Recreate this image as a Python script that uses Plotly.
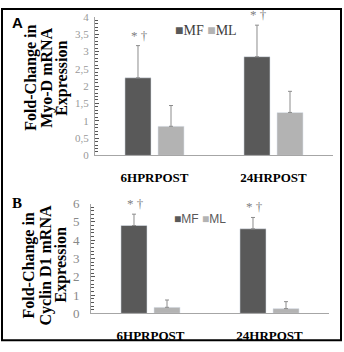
import plotly.graph_objects as go

categories = ["6HPRPOST", "24HRPOST"]
# Panel A: Myo-D
a_mf = [2.24, 2.85]
a_mf_err = [3.17, 3.76]
a_ml = [0.84, 1.24]
a_ml_err = [1.44, 1.85]
# Panel B: Cyclin D1
b_mf = [4.8, 4.62]
b_mf_err = [5.42, 5.24]
b_ml = [0.33, 0.26]
b_ml_err = [0.73, 0.64]

title_a = ["Fold-Change in", "Myo-D mRNA", "Expression"]
title_b = ["Fold-Change in", "Cyclin D1 mRNA", "Expression"]

MF_COLOR = "#595959"
ML_COLOR = "#b3b3b3"
ERR_COLOR = "#8c8c8c"
W, H = 344, 352

def px(x):
    return x / W

def py(y):
    return 1 - y / H

fig = go.Figure()

def add_bars(xa, ya, mf, mf_top, ml, ml_top):
    fig.add_trace(go.Bar(
        x=categories, y=mf, name="MF", marker_color=MF_COLOR, xaxis=xa, yaxis=ya,
        offsetgroup="mf", showlegend=False,
        error_y=dict(type="data", symmetric=False,
                     array=[t - v for t, v in zip(mf_top, mf)],
                     arrayminus=[0] * len(mf), color=ERR_COLOR, thickness=1, width=2)))
    fig.add_trace(go.Bar(
        x=categories, y=ml, name="ML", marker_color=ML_COLOR, xaxis=xa, yaxis=ya,
        offsetgroup="ml", showlegend=False,
        error_y=dict(type="data", symmetric=False,
                     array=[t - v for t, v in zip(ml_top, ml)],
                     arrayminus=[0] * len(ml), color=ERR_COLOR, thickness=1, width=2)))

add_bars("x", "y", a_mf, a_mf_err, a_ml, a_ml_err)
add_bars("x2", "y2", b_mf, b_mf_err, b_ml, b_ml_err)

serif = "Liberation Serif"
xcommon = dict(type="category", showline=True, linecolor="#a6a6a6", linewidth=1,
               ticks="", tickfont=dict(family=serif, size=13, color="black", weight="bold"),
               ticklabelstandoff=10, showgrid=False, zeroline=False)
fig.update_layout(
    width=W, height=H, margin=dict(l=0, r=0, t=0, b=0),
    paper_bgcolor="white", plot_bgcolor="white",
    barmode="group", bargap=0.445, bargroupgap=0.21,
    separators=",.",
    xaxis=dict(domain=[px(95), px(333)], anchor="y", **xcommon),
    yaxis=dict(domain=[py(155), py(10.3)], anchor="x", range=[0, 4], dtick=0.5,
               showline=True, linecolor="#a6a6a6", linewidth=1, showgrid=False, zeroline=False,
               ticks="inside", ticklen=4, tickcolor="#555",
               minor=dict(dtick=0.1, ticks="inside", ticklen=3, tickcolor="#555"),
               tickfont=dict(family=serif, size=11, color="#999999"), ticklabelstandoff=3),
    xaxis2=dict(domain=[px(91), px(329)], anchor="y2", **xcommon),
    yaxis2=dict(domain=[py(320), py(205.3)], anchor="x2", range=[0, 6], dtick=1,
                showline=True, linecolor="#a6a6a6", linewidth=1, showgrid=False, zeroline=False,
                ticks="inside", ticklen=4, tickcolor="#555",
                minor=dict(dtick=0.2, ticks="inside", ticklen=3, tickcolor="#555"),
                tickfont=dict(family=serif, size=13, color="#888888"), ticklabelstandoff=8),
)

ann = []
title_font = dict(family=serif, size=16, color="black", weight="bold")
# axis titles, one annotation per line for tight spacing
for lines, xs, yc in ((title_a, (31, 47, 62), 74), (title_b, (29, 46, 61), 270)):
    for line, xc in zip(lines, xs):
        ann.append(dict(text=line, xref="paper", yref="paper", x=px(xc), y=py(yc),
                        xanchor="center", yanchor="middle", textangle=-90,
                        showarrow=False, font=title_font))
# panel labels
ann.append(dict(text="A", xref="paper", yref="paper", x=px(17), y=py(16),
                xanchor="center", yanchor="middle", showarrow=False,
                font=dict(family="Liberation Sans", size=15, color="black", weight="bold")))
ann.append(dict(text="B", xref="paper", yref="paper", x=px(17), y=py(205),
                xanchor="center", yanchor="middle", showarrow=False,
                font=dict(family=serif, size=15, color="black", weight="bold")))
# legends
ann.append(dict(text=f"<span style='color:{MF_COLOR}'>■</span>MF <span style='color:{ML_COLOR}'>■</span>ML",
                xref="paper", yref="paper", x=px(206), y=py(25),
                xanchor="center", yanchor="middle", showarrow=False,
                font=dict(family=serif, size=14, color="#404040")))
ann.append(dict(text=f"<span style='color:{MF_COLOR}'>■</span>MF <span style='color:{ML_COLOR}'>■</span>ML",
                xref="paper", yref="paper", x=px(200), y=py(221),
                xanchor="center", yanchor="middle", showarrow=False,
                font=dict(family="Liberation Sans", size=12, color="#595959")))
# significance markers
for xa, ya, tops in (("x", "y", a_mf_err), ("x2", "y2", b_mf_err)):
    for c, t in zip(categories, tops):
        ann.append(dict(text="* †", xref=xa, yref=ya, x=c, y=t, xshift=-15, yshift=1,
                        xanchor="center", yanchor="bottom", showarrow=False,
                        font=dict(family=serif, size=13, color="#808080")))
fig.update_layout(annotations=ann)

# outer frame
fig.add_shape(type="rect", xref="paper", yref="paper", x0=px(2), x1=px(341), y0=py(348), y1=py(2),
              line=dict(color="black", width=2))

fig.write_html("out.html")
